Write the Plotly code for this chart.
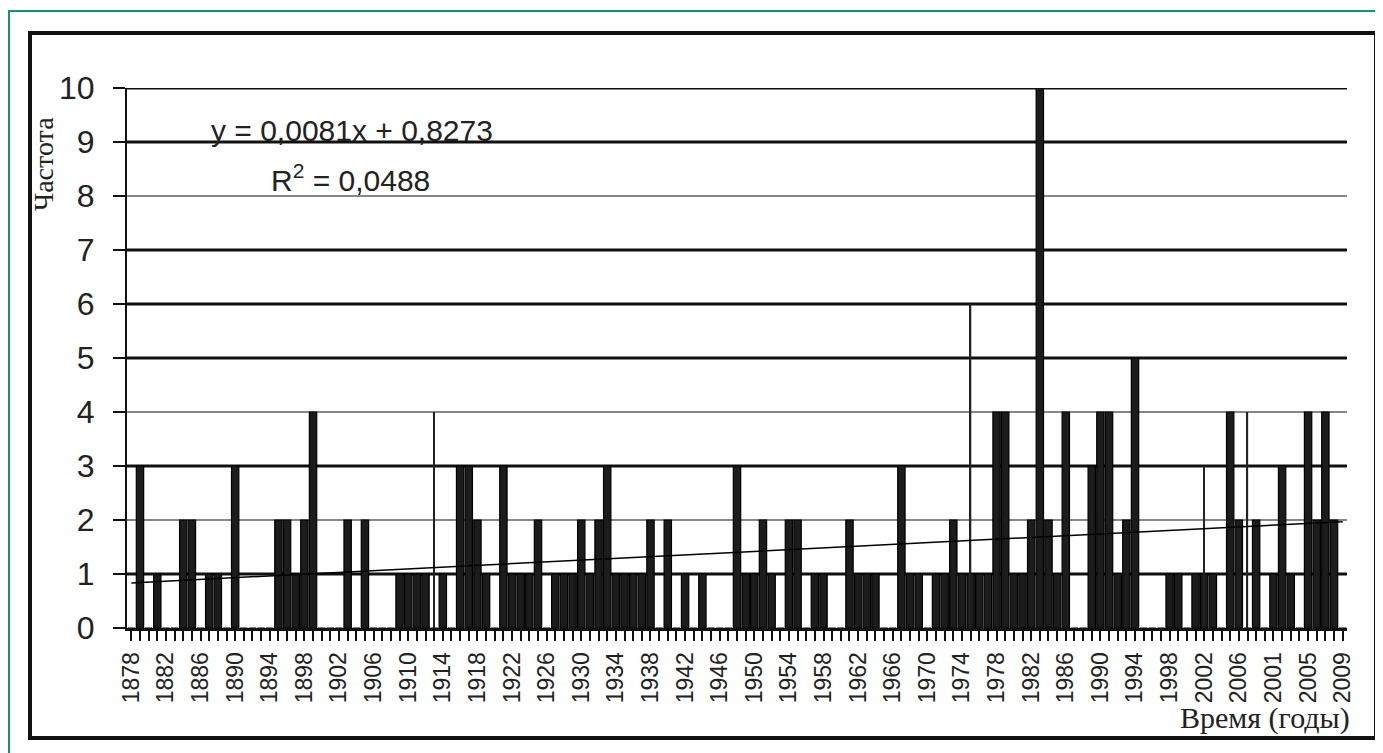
import plotly.graph_objects as go

# ---------------- data ----------------
categories = [str(y) for y in range(1878, 2009)] + [str(y) for y in range(2000, 2010)]

frequency = [
    0, 3, 0, 1, 0, 0, 2, 2, 0, 1,      # 0-9
    1, 0, 3, 0, 0, 0, 0, 2, 2, 1,      # 10-19
    2, 4, 0, 0, 0, 2, 0, 2, 0, 0,      # 20-29
    0, 1, 1, 1, 1, 0, 1, 0, 3, 3,      # 30-39
    2, 1, 0, 3, 1, 1, 1, 2, 0, 1,      # 40-49
    1, 1, 2, 1, 2, 3, 1, 1, 1, 1,      # 50-59
    2, 0, 2, 0, 1, 0, 1, 0, 0, 0,      # 60-69
    3, 1, 1, 2, 1, 0, 2, 2, 0, 1,      # 70-79
    1, 0, 0, 2, 1, 1, 1, 0, 0, 3,      # 80-89
    1, 1, 0, 1, 1, 2, 1, 1, 1, 1,      # 90-99
    4, 4, 1, 1, 2, 10, 2, 1, 4, 0,     # 100-109
    0, 3, 4, 4, 1, 2, 5, 0, 0, 0,      # 110-119
    1, 1, 0, 1, 1, 1, 0, 4, 2, 0,      # 120-129
    2, 0, 1, 3, 1, 0, 4, 2, 4, 2,      # 130-139
    0,                                  # 140
]

# thin (hairline) columns
thin_index = [35, 97, 124, 129]
thin_values = [4, 6, 3, 4]

trend_slope = 0.0081
trend_intercept = 0.8273
equation_text = "y = 0,0081x + 0,8273"
r2_text = "R<sup>2</sup> = 0,0488"

y_ticks = list(range(0, 11))
thick_grid = [1, 3, 5, 6, 7, 9, 10]

# ---------------- figure ----------------
x_idx = list(range(len(categories)))
trend_y = [trend_intercept + trend_slope * (i + 1) for i in x_idx]

fig = go.Figure()
fig.add_trace(go.Bar(
    x=x_idx, y=frequency,
    marker=dict(color="#1c1c1c", line=dict(color="#000000", width=1.2)),
    showlegend=False, hoverinfo="skip",
))
fig.add_trace(go.Bar(
    x=thin_index, y=thin_values, width=0.15,
    marker=dict(color="#222222", line=dict(width=0)),
    showlegend=False, hoverinfo="skip",
))
fig.add_trace(go.Scatter(
    x=x_idx, y=trend_y, mode="lines",
    line=dict(color="#000000", width=1.5),
    showlegend=False, hoverinfo="skip",
))

# gridlines (alternating weights like the reference)
shapes = []
for v in y_ticks[1:]:
    shapes.append(dict(
        type="line", xref="paper", yref="y", x0=0, x1=1, y0=v, y1=v,
        line=dict(color="#111111", width=3 if v in thick_grid else 1.2),
        layer="below",
    ))

# page offset of the browser's default body margin
OFF = 8
W, H = 1383 - OFF, 753 - OFF
PL, PT, PR, PB = 127, 88, 1347, 628  # plot area in page pixels
L, T = PL - OFF, PT - OFF
pw, ph = PR - PL, PB - PT
R = W - L - pw
B = H - T - ph


def px(xp):
    return (xp - PL) / pw


def py(yp):
    return (PB - yp) / ph


# outer green frame
shapes.append(dict(type="rect", xref="paper", yref="paper",
                   x0=px(9), x1=px(1400), y0=py(770), y1=py(11),
                   line=dict(color="#17936a", width=2), layer="above"))
# inner black frame
shapes.append(dict(type="rect", xref="paper", yref="paper",
                   x0=px(30), x1=px(1376), y0=py(738), y1=py(33),
                   line=dict(color="#111111", width=4), layer="above"))

annotations = [
    dict(text=equation_text, xref="paper", yref="paper",
         x=px(352), y=py(131), xanchor="center", yanchor="middle", showarrow=False,
         font=dict(family="Liberation Sans, Arial, sans-serif", size=30, color="#222222")),
    dict(text=r2_text, xref="paper", yref="paper",
         x=px(350), y=py(178), xanchor="center", yanchor="middle", showarrow=False,
         font=dict(family="Liberation Sans, Arial, sans-serif", size=30, color="#222222")),
    dict(text="Частота", xref="paper", yref="paper",
         x=px(43), y=py(164), xanchor="center", yanchor="middle", showarrow=False,
         textangle=-90,
         font=dict(family="Liberation Serif, Times New Roman, serif", size=28, color="#222222")),
    dict(text="Время (годы)", xref="paper", yref="paper",
         x=px(1265), y=py(718), xanchor="center", yanchor="middle", showarrow=False,
         font=dict(family="Liberation Serif, Times New Roman, serif", size=30, color="#222222")),
]

fig.update_layout(
    width=W, height=H,
    margin=dict(l=L, r=R, t=T, b=B, pad=0),
    paper_bgcolor="white", plot_bgcolor="white",
    barmode="overlay", bargap=0.15,
    shapes=shapes, annotations=annotations,
    font=dict(family="Liberation Sans, Arial, sans-serif", color="#222222"),
)

fig.update_xaxes(
    type="linear", range=[-0.5, len(categories) - 0.5],
    tickmode="array", tickvals=x_idx[::4], ticktext=categories[::4],
    tickangle=-90, ticks="outside", ticklen=10, tickwidth=2, tickcolor="#111111",
    minor=dict(tickmode="linear", tick0=0, dtick=1, ticks="outside",
               ticklen=10, tickwidth=2, tickcolor="#111111"),
    tickfont=dict(size=23, family="Liberation Sans, Arial, sans-serif", color="#222222"),
    ticklabelstandoff=2,
    showgrid=False, zeroline=False,
    showline=True, linecolor="#111111", linewidth=3,
)
fig.update_yaxes(
    range=[0, 10], tickmode="array", tickvals=y_ticks,
    ticks="outside", ticklen=12, tickwidth=2, tickcolor="#111111",
    tickfont=dict(size=32, family="Liberation Sans, Arial, sans-serif", color="#222222"),
    ticklabelstandoff=12,
    showgrid=False, zeroline=False,
    showline=True, linecolor="#111111", linewidth=2,
)

fig.write_html("out.html")
